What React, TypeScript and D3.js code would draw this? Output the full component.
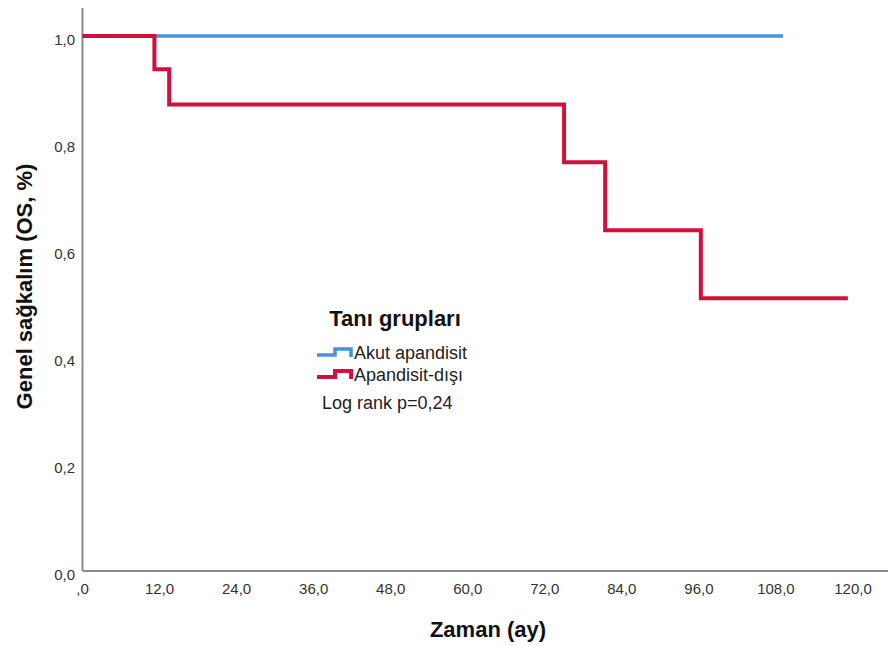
import React from "react";
import * as d3 from "d3";

const xTicks = [0, 12, 24, 36, 48, 60, 72, 84, 96, 108, 120];
const xTickLabels = [",0", "12,0", "24,0", "36,0", "48,0", "60,0", "72,0", "84,0", "96,0", "108,0", "120,0"];
const yTicks = [0, 0.2, 0.4, 0.6, 0.8, 1.0];
const yTickLabels = ["0,0", "0,2", "0,4", "0,6", "0,8", "1,0"];

const blueTimes = [0, 109.1];
const blueSurv = [1, 1];
const redTimes = [0, 11.2, 13.5, 75.0, 81.4, 96.3, 119.2];
const redSurv = [1, 0.938, 0.872, 0.764, 0.637, 0.51, 0.51];

const groupNames = ["Akut apandisit", "Apandisit-dışı"];
const groupColors = ["#4a8fe0", "#d3103c"];

const FONT = "'Liberation Sans', Arial, sans-serif";

export default function App() {
  const W = 888, H = 646;
  const x = d3.scaleLinear().domain([0, 120]).range([82.5, 853]);
  const y = d3.scaleLinear().domain([0, 1]).range([571, 36]);

  const line = d3
    .line<[number, number]>()
    .x((d) => x(d[0]))
    .y((d) => y(d[1]))
    .curve(d3.curveStepAfter);

  const blueData: [number, number][] = blueTimes.map((t, i) => [t, blueSurv[i]]);
  const redData: [number, number][] = redTimes.map((t, i) => [t, redSurv[i]]);

  const legendSym = (yLow: number) =>
    `M317,${yLow} H335 V${yLow - 6} H351 V${yLow + 2}`;

  return (
    <svg width={W} height={H} style={{ position: "absolute", left: 0, top: 0, background: "#fff" }} fontFamily={FONT}>
      {/* axes */}
      <line x1={x(0)} x2={888} y1={y(0)} y2={y(0)} stroke="#8a8a8a" strokeWidth={2} />
      <line x1={x(0)} x2={x(0)} y1={8} y2={y(0)} stroke="#8a8a8a" strokeWidth={2} />

      {yTicks.map((t, i) => (
        <text key={"y" + i} x={75} y={y(t) + 9} textAnchor="end" fontSize={15} fill="#333">
          {yTickLabels[i]}
        </text>
      ))}
      {xTicks.map((t, i) => (
        <text key={"x" + i} x={x(t)} y={594} textAnchor="middle" fontSize={15} fill="#333">
          {xTickLabels[i]}
        </text>
      ))}

      {/* curves */}
      <path d={line(blueData) || ""} fill="none" stroke={groupColors[0]} strokeWidth={3.5} />
      <path d={line(redData) || ""} fill="none" stroke={groupColors[1]} strokeWidth={4} />

      {/* axis titles */}
      <text x={488} y={637} textAnchor="middle" fontSize={22} fontWeight="bold" fill="#111">
        Zaman (ay)
      </text>
      <text
        transform="translate(32,286.5) rotate(-90)"
        textAnchor="middle"
        fontSize={22}
        fontWeight="bold"
        fill="#111"
      >
        Genel sağkalım (OS, %)
      </text>

      {/* legend */}
      <text x={395} y={326} textAnchor="middle" fontSize={22} fontWeight="bold" fill="#111">
        Tanı grupları
      </text>
      <path d={legendSym(355)} fill="none" stroke={groupColors[0]} strokeWidth={3.5} />
      <text x={354} y={359} fontSize={18} fill="#222">{groupNames[0]}</text>
      <path d={legendSym(377)} fill="none" stroke={groupColors[1]} strokeWidth={4} />
      <text x={354} y={381} fontSize={18} fill="#222">{groupNames[1]}</text>
      <text x={322} y={409} fontSize={18} fill="#222">Log rank p=0,24</text>
    </svg>
  );
}
